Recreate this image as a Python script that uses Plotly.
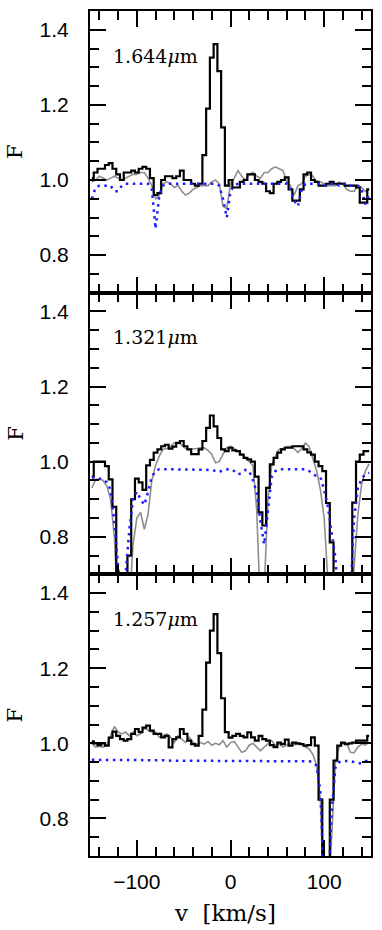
# Три панели спектра: наблюдение (ступеньки), модель (серая), теллурика (синие точки)
import plotly.graph_objects as go
from plotly.subplots import make_subplots

# Сетка скоростей, км/с (центры бинов)
VEL = list(range(-148, 149, 4))

# 1.644 мкм
OBS_1644 = [1.005, 1.02, 1.03, 1.03, 1.04, 1.045, 1.03, 1.015, 1.0, 1.02,
            1.02, 1.025, 1.02, 1.03, 1.035, 1.03, 1.005, 0.96, 0.965, 1.0,
            1.01, 1.01, 1.005, 1.01, 1.025, 1.0, 1.0, 0.99, 0.985, 0.99,
            1.066, 1.19, 1.326, 1.362, 1.29, 1.14, 0.985, 1.0, 0.98, 0.98,
            0.995, 1.0, 1.015, 1.015, 1.0, 0.995, 0.99, 0.97, 0.965, 0.99,
            0.995, 1.0, 1.007, 0.975, 0.945, 0.945, 0.975, 1.015, 1.02, 1.0,
            0.995, 0.985, 0.985, 0.99, 0.995, 0.99, 0.99, 0.99, 0.985, 0.985,
            0.985, 0.98, 0.94, 0.94, 0.975]
MOD_1644 = [0.995, 1.0, 1.01, 1.005, 1.0, 1.005, 1.01, 1.005, 1.0, 1.005,
            1.01, 1.015, 1.015, 1.02, 1.02, 1.005, 0.985, 0.95, 0.96, 0.99,
            0.995, 0.99, 0.98, 0.985, 0.97, 0.96, 0.965, 0.975, 0.98, 0.985,
            0.985, 0.985, 0.995, 1.0, 0.99, 0.93, 0.925, 0.99, 1.005, 1.025,
            1.01, 1.0, 1.015, 1.02, 1.01, 1.005, 1.02, 1.02, 1.03, 1.035,
            1.03, 1.025, 0.995, 0.985, 0.96, 0.985, 0.99, 1.01, 1.015, 1.01,
            0.995, 0.995, 0.99, 0.985, 0.985, 0.985, 0.995, 0.99, 0.975, 0.97,
            0.97, 0.985, 0.98, 0.97, 0.975]
TEL_1644 = [0.95, 0.98, 0.985, 0.985, 0.985, 0.985, 0.97, 0.97, 0.985, 0.99,
            0.99, 0.99, 0.99, 0.99, 0.99, 0.99, 0.975, 0.87, 0.96, 0.985,
            0.99, 0.99, 0.99, 0.99, 0.99, 0.99, 0.99, 0.99, 0.99, 0.99,
            0.99, 0.99, 0.99, 0.99, 0.985, 0.95, 0.9, 0.97, 0.985, 0.99,
            0.99, 0.99, 0.99, 0.99, 0.99, 0.99, 0.99, 0.99, 0.99, 0.99,
            0.99, 0.99, 0.99, 0.975, 0.945, 0.93, 0.975, 0.99, 0.99, 0.99,
            0.99, 0.99, 0.985, 0.99, 0.99, 0.99, 0.985, 0.99, 0.99, 0.985,
            0.985, 0.985, 0.975, 0.935, 0.96]

# 1.321 мкм
OBS_1321 = [0.96, 1.0, 1.0, 1.0, 0.988, 0.953, 0.88, 0.6, 0.55, 0.6,
            0.75, 0.9, 0.955, 0.945, 0.925, 0.99, 1.005, 1.024, 1.033, 1.041,
            1.045, 1.035, 1.04, 1.05, 1.055, 1.041, 1.033, 1.02, 1.02, 1.033,
            1.055, 1.09, 1.123, 1.094, 1.063, 1.033, 1.028, 1.037, 1.03, 1.028,
            1.019, 1.01, 1.006, 1.0, 0.96, 0.865, 0.83, 0.93, 0.993, 1.01,
            1.024, 1.033, 1.037, 1.037, 1.041, 1.041, 1.041, 1.033, 1.025, 1.019,
            1.0, 0.988, 0.975, 0.89, 0.785, 0.6, 0.55, 0.55, 0.55, 0.6,
            0.891, 1.0, 1.019, 1.028, 1.028]
MOD_1321 = [0.93, 0.953, 0.953, 0.95, 0.935, 0.9, 0.8, 0.6, 0.55, 0.55,
            0.62, 0.78, 0.85, 0.865, 0.82, 0.86, 0.95, 0.99, 1.015, 1.033,
            1.035, 1.04, 1.05, 1.05, 1.045, 1.035, 1.033, 1.033, 1.035, 1.037,
            1.037, 1.03, 1.02, 0.997, 1.0, 1.02, 1.037, 1.041, 1.035, 1.028,
            1.02, 1.01, 1.0, 0.99, 0.87, 0.6, 0.66, 0.9, 0.99, 1.015,
            1.033, 1.035, 1.04, 1.04, 1.035, 1.024, 1.035, 1.05, 1.04, 1.01,
            0.975, 0.925, 0.85, 0.68, 0.55, 0.55, 0.55, 0.55, 0.55, 0.55,
            0.72, 0.86, 0.94, 0.975, 0.995]
TEL_1321 = [0.958, 0.958, 0.955, 0.953, 0.945, 0.925, 0.84, 0.74, 0.6, 0.7,
            0.82, 0.9, 0.92, 0.9, 0.885, 0.92, 0.96, 0.975, 0.98, 0.98,
            0.98, 0.98, 0.98, 0.98, 0.98, 0.98, 0.98, 0.98, 0.98, 0.98,
            0.98, 0.98, 0.978, 0.975, 0.972, 0.978, 0.98, 0.98, 0.975, 0.966,
            0.97, 0.978, 0.975, 0.95, 0.918, 0.84, 0.78, 0.88, 0.96, 0.975,
            0.98, 0.98, 0.98, 0.98, 0.98, 0.98, 0.98, 0.98, 0.975, 0.966,
            0.962, 0.958, 0.925, 0.88, 0.81, 0.745, 0.6, 0.6, 0.6, 0.65,
            0.85, 0.93, 0.955, 0.966, 0.971]

# 1.257 мкм
OBS_1257 = [1.005, 1.0, 0.995, 1.0, 0.994, 1.015, 1.031, 1.02, 1.011, 1.007,
            1.011, 1.025, 1.038, 1.03, 1.042, 1.047, 1.034, 1.025, 1.025, 1.016,
            1.02, 0.989, 1.011, 1.016, 1.038, 1.025, 1.007, 0.998, 0.994, 1.02,
            1.09, 1.215, 1.3, 1.344, 1.24, 1.12, 1.03, 1.015, 1.02, 1.025,
            1.02, 1.016, 1.029, 1.016, 1.007, 1.02, 1.011, 1.007, 0.995, 0.99,
            1.002, 0.998, 1.01, 0.994, 1.002, 1.0, 0.998, 0.994, 0.995, 1.016,
            0.994, 0.85, 0.55, 0.55, 0.85, 0.954, 0.994, 1.002, 0.998, 1.0,
            1.002, 1.007, 1.007, 1.007, 1.02]
MOD_1257 = [1.0, 0.99, 0.992, 0.99, 0.996, 1.02, 1.045, 1.03, 1.025, 1.03,
            1.02, 1.03, 1.02, 1.025, 1.04, 1.035, 1.03, 1.03, 1.016, 1.02,
            1.025, 1.016, 1.002, 1.02, 1.01, 1.002, 1.016, 1.002, 0.998, 1.002,
            0.998, 1.005, 0.995, 1.0, 0.996, 1.007, 0.99, 1.002, 1.005, 0.99,
            0.976, 0.98, 0.995, 1.0, 0.99, 0.98, 0.99, 0.998, 1.007, 0.994,
            0.998, 0.99, 0.996, 1.0, 0.996, 0.998, 1.0, 0.99, 0.985, 0.97,
            0.94, 0.85, 0.55, 0.55, 0.75, 0.95, 0.99, 1.0, 1.0, 0.976,
            0.975, 0.99, 0.998, 0.995, 1.003]
TEL_1257 = [0.956, 0.956, 0.956, 0.956, 0.956, 0.956, 0.956, 0.956, 0.956, 0.956,
            0.956, 0.955, 0.955, 0.955, 0.955, 0.955, 0.955, 0.955, 0.955, 0.955,
            0.954, 0.954, 0.954, 0.954, 0.954, 0.954, 0.954, 0.954, 0.954, 0.954,
            0.953, 0.953, 0.953, 0.953, 0.953, 0.953, 0.953, 0.952, 0.952, 0.952,
            0.952, 0.952, 0.952, 0.952, 0.952, 0.952, 0.952, 0.952, 0.952, 0.952,
            0.952, 0.952, 0.952, 0.952, 0.952, 0.952, 0.952, 0.952, 0.952, 0.95,
            0.94, 0.87, 0.6, 0.6, 0.82, 0.935, 0.95, 0.953, 0.953, 0.953,
            0.95, 0.947, 0.947, 0.953, 0.953]

LABELS = ["1.644", "1.321", "1.257"]
PANELS = [(OBS_1644, MOD_1644, TEL_1644),
          (OBS_1321, MOD_1321, TEL_1321),
          (OBS_1257, MOD_1257, TEL_1257)]

SERIF = "DejaVu Serif"
SANS = "Liberation Sans"

fig = make_subplots(rows=3, cols=1, shared_xaxes=True, vertical_spacing=0)

for row, (obs, mod, tel) in enumerate(PANELS, start=1):
    # модель - серая
    fig.add_trace(go.Scatter(x=VEL, y=mod, mode="lines",
                             line=dict(color="#8e8e8e", width=1.6)), row=row, col=1)
    # наблюдение - черные ступеньки
    fig.add_trace(go.Scatter(x=VEL, y=obs, mode="lines",
                             line=dict(color="black", width=2.2, shape="hvh")), row=row, col=1)
    # теллурика - синие точки
    fig.add_trace(go.Scatter(x=VEL, y=tel, mode="lines",
                             line=dict(color="#1c1cff", width=2.5, dash="2.5px,4.5px")), row=row, col=1)

    fig.update_xaxes(range=[-150, 150], tick0=0, dtick=100, ticks="inside", ticklen=16,
                     tickwidth=2, tickcolor="black", showline=True, linewidth=2,
                     linecolor="black", mirror="ticks", showgrid=False, zeroline=False,
                     tickfont=dict(family=SANS, size=21, color="black"),
                     ticklabelstandoff=6,
                     minor=dict(dtick=20, tick0=0, ticks="inside", ticklen=9, tickwidth=2,
                                tickcolor="black", showgrid=False),
                     row=row, col=1)
    fig.update_yaxes(range=[0.7, 1.45], tick0=0, dtick=0.2, tickformat=".1f",
                     ticks="inside", ticklen=16, tickwidth=2, tickcolor="black",
                     showline=True, linewidth=2, linecolor="black", mirror="ticks",
                     showgrid=False, zeroline=False,
                     tickfont=dict(family=SANS, size=21, color="black"),
                     ticklabelstandoff=15,
                     minor=dict(dtick=0.05, tick0=0, ticks="inside", ticklen=9, tickwidth=2,
                                tickcolor="black", showgrid=False),
                     row=row, col=1)

    yd = "y domain" if row == 1 else "y%d domain" % row
    xd = "x domain" if row == 1 else "x%d domain" % row
    # подпись F
    fig.add_annotation(text="F", xref="paper", x=-0.266, xanchor="center",
                       yref=yd, y=0.5, yanchor="middle", textangle=-90,
                       showarrow=False, font=dict(family=SERIF, size=21, color="black"))
    # длина волны
    fig.add_annotation(text=LABELS[row - 1] + "<i>μ</i>m", xref=xd, x=0.074, xanchor="left",
                       yref=yd, y=0.842, yanchor="middle", showarrow=False,
                       font=dict(family=SERIF, size=19, color="black"))

# подпись оси x
fig.add_annotation(text="v\u00a0\u00a0[km/s]", xref="paper", x=0.48, xanchor="center",
                   yref="paper", y=-0.0673, yanchor="middle",
                   showarrow=False, font=dict(family=SERIF, size=23, color="black"))

fig.update_layout(width=382, height=930, margin=dict(l=90, r=10, t=9, b=74),
                  showlegend=False, plot_bgcolor="white", paper_bgcolor="white")

fig.write_html("out.html", config={"displayModeBar": False},
               post_script="document.body.style.margin='0';document.body.style.overflow='hidden';")
